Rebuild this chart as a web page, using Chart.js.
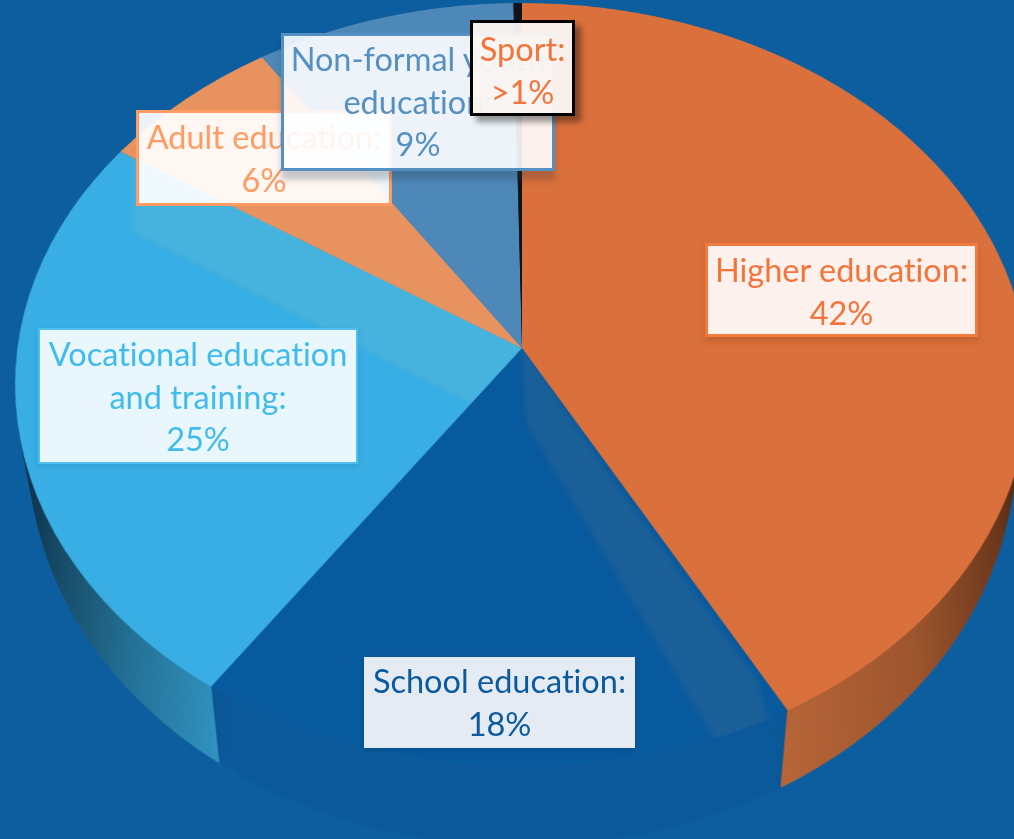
<!DOCTYPE html>
<html><head><meta charset="utf-8">
<style>
html,body{margin:0;padding:0;width:1014px;height:839px;overflow:hidden;background:#0d5e9e}
#wrap{position:absolute;left:0;top:0;width:1000px;height:1110px;transform-origin:0 0}
.lab{position:absolute;box-sizing:border-box;font-family:Lato,"Open Sans",sans-serif;font-size:32.5px;line-height:42.5px;text-align:center;white-space:nowrap;padding-top:2px;font-variant-ligatures:none}
</style>
<script src="https://cdn.jsdelivr.net/npm/chart.js@4"></script>
</head><body>
<div id="wrap"><canvas id="c" width="1000" height="1110"></canvas></div>
<div id="labels"></div>
<script>
const categories=["Higher education","School education","Vocational education and training","Adult education","Non-formal youth education","Sport"];
const values=[42,17.6,24.6,6.4,9.1,0.3];
const valueLabels=["42%","18%","25%","6%","9%",">1%"];
const labelLines=[["Higher education:"],["School education:"],["Vocational education","and training:"],["Adult education:"],["Non-formal youth","education:"],["Sport:"]];
const faceColors=["#da703c","#085a9e","#38aee4","#e8935f","#4e88b8","#101418"];
const wallColors=["#ba673a","#0c5a9b","#3398c6","#c07a50","#3c7099","#101418"];

// Look of the labels: box [left, top, width, height], text colour, border, fill, shadow, top padding
const labelStyle=[
 {box:[705,243,273,94],color:"#f4743b",border:"3px solid #f47b3f",bg:"rgba(255,255,255,.9)",shadow:"0 4px 6px rgba(120,50,10,.25)",pad:3},
 {box:[364,657,271,91],color:"#0b5a9e",border:"1px solid #dfe7f0",bg:"#e4ebf3",shadow:"0 2px 5px rgba(0,0,0,.12)",pad:2},
 {box:[38,328,320,136],color:"#3fbbee",border:"2px solid #4dc0ee",bg:"#e9f6fc",shadow:"0 2px 5px rgba(0,60,110,.12)",pad:3},
 {box:[136,110,256,96],color:"#ff9b63",border:"3px solid #ff9b63",bg:"rgba(255,255,255,.92)",shadow:"none",pad:3},
 {box:[281,33,274,138],color:"#5490c2",border:"3px solid #5490c2",bg:"rgba(255,255,255,.9)",shadow:"0 9px 6px rgba(40,50,70,.25)",pad:2},
 {box:[470,20,105,96],color:"#f4733a",border:"3px solid #000",bg:"rgba(250,245,242,.96)",shadow:"6px 6px 6px rgba(0,0,0,.4)",pad:5}
];

// Tilt of the disc on the page
const TILT={px:522,py:348,g:-0.09686,b:344.7,a:504.6};
const C=500,R=500;
function toDisc(X,Y){
  const y=(Y-TILT.py)/(TILT.b-Y*TILT.g),w=1+TILT.g*y;
  return [C+(X-TILT.px)*w/TILT.a*R,C+y*R];
}
// Reflection bands on the faces
function banded(base,bandColor,outline){
  const o=document.createElement('canvas');o.width=1000;o.height=1110;
  const x=o.getContext('2d');
  x.fillStyle=base;x.fillRect(0,0,1000,1110);
  x.fillStyle=bandColor;x.beginPath();
  outline.forEach((p,i)=>{const q=toDisc(p[0],p[1]);i?x.lineTo(q[0],q[1]):x.moveTo(q[0],q[1]);});
  x.closePath();x.filter='blur(2px)';x.fill();
  return x.createPattern(o,'no-repeat');
}
const fills=faceColors.slice();
fills[1]=banded(faceColors[1],"#1a5f98",[[522,348],[527,425],[745,790],[790,790],[757,680],[580,433]]);
fills[2]=banded(faceColors[2],"#46b2de",[[133,130],[133,232],[475,405],[530,350],[320,130]]);

const canvas=document.getElementById('c');
const DEPTH=84,NARROW=.043;
const solidWall={
  id:'solidWall',
  beforeDatasetsDraw(chart){
    const ctx=chart.ctx,arcs=chart.getDatasetMeta(0).data,cx=arcs[0].x,cy=arcs[0].y;
    for(let d=DEPTH;d>=1;d--){
      const t=d/DEPTH,k=1-NARROW*t;
      ctx.save();
      ctx.translate(cx,cy+d);ctx.scale(k,1);ctx.translate(-cx,-cy);
      arcs.forEach((a,i)=>{
        const o=a.options;
        a.options=Object.create(o,{backgroundColor:{value:wallColors[i]}});
        a.draw(ctx);
        a.options=o;
      });
      ctx.restore();
    }
    ctx.save();
    ctx.globalCompositeOperation='source-atop';
    const s=ctx.createLinearGradient(0,0,chart.width,0);
    s.addColorStop(0,'rgba(0,10,25,.85)');
    s.addColorStop(.05,'rgba(0,10,25,.6)');
    s.addColorStop(.14,'rgba(0,10,25,.28)');
    s.addColorStop(.24,'rgba(0,10,25,0)');
    s.addColorStop(.72,'rgba(30,10,0,0)');
    s.addColorStop(.86,'rgba(30,10,0,.18)');
    s.addColorStop(.95,'rgba(30,10,0,.5)');
    s.addColorStop(1,'rgba(30,10,0,.8)');
    ctx.fillStyle=s;
    ctx.fillRect(0,0,chart.width,chart.height);
    ctx.restore();
  }
};

const chart=new Chart(canvas,{
  type:'pie',
  data:{labels:categories,datasets:[{data:values,backgroundColor:fills,borderWidth:0}]},
  options:{responsive:false,animation:false,rotation:0,
    layout:{padding:{bottom:110}},
    plugins:{legend:{display:false},tooltip:{enabled:false}}},
  plugins:[solidWall]
});

(function(){
  const el=chart.getDatasetMeta(0).data[0],cx=el.x,cy=el.y,r=el.outerRadius;
  const {px,py,g,b,a}=TILT;
  const m=[a/r,0,0,0, px*g/r,b/r,0,g/r, 0,0,1,0,
           px-px*g*cy/r-a*cx/r, py-b*cy/r, 0, 1-g*cy/r];
  document.getElementById('wrap').style.transform='matrix3d('+m.join(',')+')';
})();

const host=document.getElementById('labels');
categories.forEach((c,i)=>{
  const s=labelStyle[i],d=document.createElement('div');
  d.className='lab';
  d.style.cssText+=`left:${s.box[0]}px;top:${s.box[1]}px;width:${s.box[2]}px;height:${s.box[3]}px;color:${s.color};border:${s.border};background:${s.bg};box-shadow:${s.shadow};padding-top:${s.pad}px`;
  d.innerHTML=labelLines[i].concat(valueLabels[i]).map(t=>'<div>'+t.replace('>','&gt;')+'</div>').join('');
  host.appendChild(d);
});
</script>
</body></html>
